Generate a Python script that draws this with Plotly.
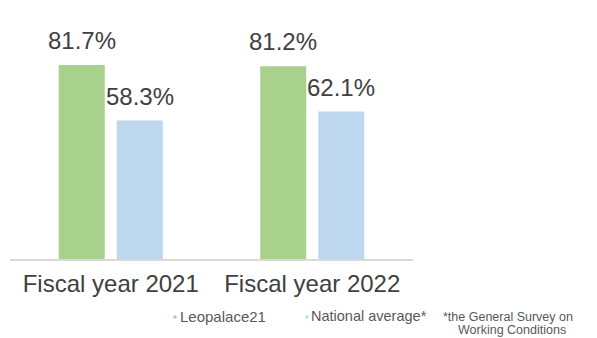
import plotly.graph_objects as go

categories = ["Fiscal year 2021", "Fiscal year 2022"]
leopalace = [81.7, 81.2]
national = [58.3, 62.1]
series_names = ["Leopalace21", "National average*"]
note_lines = ["*the General Survey on", "Working Conditions"]

GREEN = "#A9D18E"
BLUE = "#BDD7EE"
W, H = 597, 338
ML, MR, MT, MB = 10, 184, 21, 79
FONT = "Arial, Liberation Sans, sans-serif"

def px_x(px):
    return (px - ML) / (W - ML - MR)

def px_y(py):
    return (H - MB - py) / (H - MT - MB)

fig = go.Figure()
fig.add_trace(go.Bar(x=categories, y=leopalace, name=series_names[0],
                     marker=dict(color=GREEN, line=dict(width=0)), showlegend=False))
fig.add_trace(go.Bar(x=categories, y=national, name=series_names[1],
                     marker=dict(color=BLUE, line=dict(width=0)), showlegend=False))

annotations = []
for cat, v in zip(categories, leopalace):
    annotations.append(dict(x=cat, y=v, xref="x", yref="y", text=f"{v:.1f}%", showarrow=False,
                            xshift=-29, yshift=9, yanchor="bottom",
                            font=dict(family=FONT, size=24, color="#404040")))
for cat, v in zip(categories, national):
    annotations.append(dict(x=cat, y=v, xref="x", yref="y", text=f"{v:.1f}%", showarrow=False,
                            xshift=29, yshift=9, yanchor="bottom",
                            font=dict(family=FONT, size=24, color="#404040")))

# legend (custom)
annotations.append(dict(x=px_x(178), y=px_y(316), xref="paper", yref="paper", text=series_names[0],
                        showarrow=False, xanchor="left", yanchor="middle",
                        font=dict(family=FONT, size=15, color="#595959")))
annotations.append(dict(x=px_x(309), y=px_y(316), xref="paper", yref="paper", text=series_names[1],
                        showarrow=False, xanchor="left", yanchor="middle",
                        font=dict(family=FONT, size=14.5, color="#595959")))
for txt, cx, cy in zip(note_lines, [508, 512], [317, 329.5]):
    annotations.append(dict(x=px_x(cx), y=px_y(cy), xref="paper", yref="paper", text=txt,
                            showarrow=False, xanchor="center", yanchor="middle",
                            font=dict(family=FONT, size=12.5, color="#595959")))

shapes = []
for cx, col in [(175, GREEN), (307, BLUE)]:
    shapes.append(dict(type="rect", xref="paper", yref="paper",
                       x0=px_x(cx - 1.5), x1=px_x(cx + 1.5), y0=px_y(317 + 1.5), y1=px_y(317 - 1.5),
                       fillcolor=col, line=dict(width=0)))

fig.update_layout(
    width=W, height=H,
    margin=dict(l=ML, r=MR, t=MT, b=MB),
    paper_bgcolor="white", plot_bgcolor="white",
    barmode="group", bargap=0.424, bargroupgap=0.207,
    annotations=annotations, shapes=shapes,
    xaxis=dict(showline=True, linecolor="#D9D9D9", linewidth=1.5, ticks="",
               tickfont=dict(family=FONT, size=24, color="#404040"),
               ticklabelstandoff=2, showgrid=False, zeroline=False),
    yaxis=dict(range=[0, 100.2], visible=False, showgrid=False, zeroline=False),
    showlegend=False,
)

fig.write_html("out.html")
